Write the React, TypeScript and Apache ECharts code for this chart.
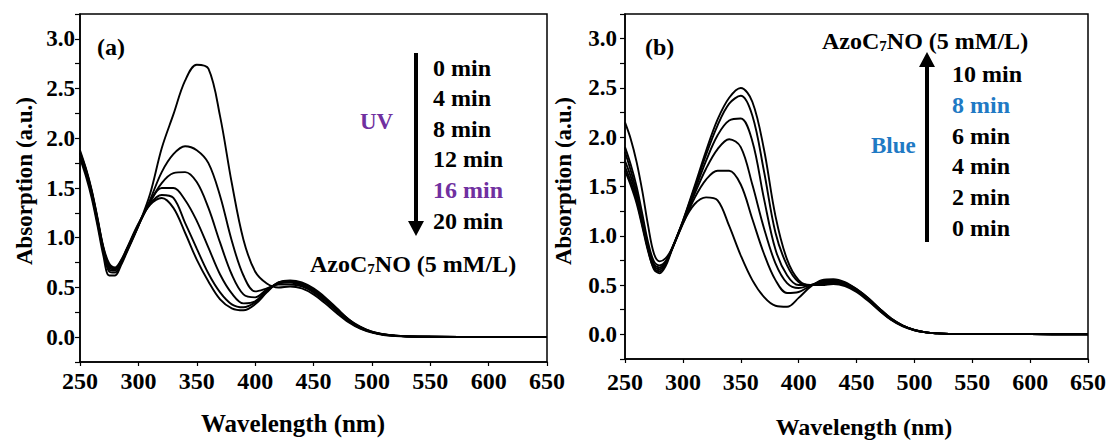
import React, { useEffect, useRef } from "react";
import * as echarts from "echarts";

const wavelengths = [250,255,260,265,270,275,280,285,290,300,310,320,330,340,350,360,370,380,390,400,410,420,430,440,450,460,470,480,490,500,510,520,530,550,600,650];

// Panel (a): UV irradiation
const uvLabels = ["0 min", "4 min", "8 min", "12 min", "16 min", "20 min"];
const uv0 = [1.80,1.62,1.40,1.12,0.82,0.62,0.62,0.72,0.85,1.12,1.44,1.90,2.24,2.58,2.74,2.70,2.22,1.55,0.98,0.66,0.54,0.50,0.51,0.49,0.43,0.34,0.24,0.15,0.085,0.045,0.022,0.012,0.007,0.004,0.002,0.001];
const uv4 = [1.82,1.65,1.43,1.15,0.86,0.66,0.65,0.74,0.86,1.12,1.38,1.66,1.84,1.92,1.88,1.75,1.42,0.97,0.62,0.46,0.49,0.53,0.53,0.51,0.45,0.36,0.26,0.16,0.09,0.05,0.025,0.013,0.007,0.004,0.002,0.001];
const uv8 = [1.84,1.67,1.45,1.17,0.88,0.68,0.67,0.75,0.87,1.12,1.36,1.55,1.65,1.66,1.56,1.30,0.95,0.63,0.43,0.40,0.48,0.54,0.55,0.52,0.46,0.37,0.27,0.17,0.095,0.05,0.026,0.014,0.008,0.004,0.002,0.001];
const uv12 = [1.85,1.68,1.46,1.18,0.89,0.70,0.68,0.76,0.88,1.13,1.36,1.50,1.50,1.38,1.17,0.90,0.63,0.44,0.34,0.36,0.47,0.54,0.56,0.53,0.47,0.38,0.28,0.17,0.10,0.05,0.027,0.014,0.008,0.004,0.002,0.001];
const uv16 = [1.86,1.69,1.47,1.19,0.90,0.72,0.69,0.76,0.88,1.13,1.34,1.43,1.40,1.15,0.89,0.64,0.45,0.33,0.30,0.35,0.46,0.55,0.565,0.54,0.48,0.39,0.28,0.18,0.10,0.055,0.028,0.015,0.008,0.004,0.002,0.001];
const uv20 = [1.88,1.70,1.48,1.20,0.91,0.74,0.70,0.77,0.89,1.14,1.33,1.40,1.30,1.05,0.78,0.56,0.38,0.29,0.27,0.33,0.45,0.55,0.57,0.55,0.49,0.40,0.29,0.18,0.105,0.055,0.03,0.015,0.009,0.004,0.002,0.001];

// Panel (b): blue light irradiation
const blueLabels = ["10 min", "8 min", "6 min", "4 min", "2 min", "0 min"];
const bl0 = [2.15,1.98,1.75,1.45,1.10,0.82,0.74,0.77,0.86,1.13,1.32,1.39,1.36,1.10,0.80,0.55,0.38,0.29,0.28,0.37,0.48,0.55,0.56,0.53,0.46,0.37,0.26,0.16,0.09,0.045,0.02,0.01,0.005,0.003,0.002,0.001];
const bl2 = [1.90,1.72,1.50,1.22,0.93,0.74,0.70,0.74,0.85,1.12,1.38,1.57,1.66,1.66,1.52,1.17,0.82,0.55,0.42,0.43,0.49,0.54,0.55,0.52,0.46,0.37,0.26,0.16,0.09,0.045,0.02,0.01,0.005,0.003,0.002,0.001];
const bl4 = [1.76,1.60,1.40,1.14,0.88,0.71,0.68,0.73,0.85,1.13,1.42,1.68,1.88,1.98,1.90,1.52,1.08,0.72,0.52,0.47,0.50,0.53,0.54,0.51,0.45,0.36,0.25,0.155,0.088,0.044,0.02,0.01,0.005,0.003,0.002,0.001];
const bl6 = [1.70,1.55,1.36,1.11,0.86,0.69,0.66,0.72,0.85,1.14,1.45,1.76,2.02,2.17,2.19,1.96,1.38,0.86,0.60,0.50,0.50,0.52,0.53,0.50,0.44,0.35,0.25,0.15,0.086,0.043,0.02,0.01,0.005,0.003,0.002,0.001];
const bl8 = [1.66,1.51,1.33,1.09,0.84,0.67,0.64,0.71,0.85,1.15,1.48,1.82,2.12,2.34,2.42,2.22,1.66,1.03,0.70,0.53,0.50,0.51,0.52,0.50,0.44,0.35,0.24,0.15,0.085,0.042,0.02,0.01,0.005,0.003,0.002,0.001];
const bl10 = [1.85,1.66,1.44,1.15,0.86,0.66,0.62,0.69,0.84,1.15,1.50,1.86,2.18,2.40,2.50,2.36,1.88,1.20,0.76,0.55,0.50,0.50,0.51,0.49,0.43,0.34,0.24,0.145,0.08,0.04,0.02,0.01,0.005,0.003,0.002,0.001];

const xTicks = [250, 300, 350, 400, 450, 500, 550, 600, 650];
const yLabelValues = [0, 0.5, 1, 1.5, 2, 2.5, 3];

const FONT = "Liberation Serif";
const PURPLE = "#7030A0";
const BLUE = "#1F7AC4";

function pairs(arr: number[]) {
  return wavelengths.map((w, i) => [w, arr[i]]);
}

function lineSeries(name: string, arr: number[], idx: number) {
  return {
    name,
    type: "line",
    xAxisIndex: idx,
    yAxisIndex: idx,
    data: pairs(arr),
    showSymbol: false,
    smooth: 0.35,
    silent: true,
    lineStyle: { color: "#000", width: 1.9 },
  };
}

function xAxisDef(gridIndex: number, margin: number) {
  return {
    gridIndex,
    type: "value",
    min: xTicks[0],
    max: xTicks[xTicks.length - 1],
    interval: 50,
    axisLine: { onZero: false, lineStyle: { color: "#000", width: 1.5 } },
    axisTick: { show: true, inside: false, length: 4, lineStyle: { color: "#000", width: 1.2 } },
    axisLabel: { color: "#000", fontFamily: FONT, fontWeight: "bold", fontSize: 24, margin },
    splitLine: { show: false },
  };
}

function yAxisDef(gridIndex: number, margin: number) {
  return {
    gridIndex,
    type: "value",
    min: -0.25,
    max: 3.25,
    interval: 0.25,
    axisLine: { onZero: false, lineStyle: { color: "#000", width: 1.5 } },
    axisTick: { show: true, inside: false, length: 5, lineStyle: { color: "#000", width: 1.2 } },
    axisLabel: {
      color: "#000",
      fontFamily: FONT,
      fontWeight: "bold",
      fontSize: 23,
      margin,
      formatter: (v: number) =>
        yLabelValues.some((t) => Math.abs(t - v) < 1e-6) ? v.toFixed(1) : "",
    },
    splitLine: { show: false },
  };
}

function txt(text: string, x: number, y: number, opts: any = {}) {
  return {
    type: "text",
    x,
    y,
    rotation: opts.rotation || 0,
    silent: true,
    style: {
      text,
      fill: opts.fill || "#000",
      fontFamily: FONT,
      fontWeight: "bold",
      fontSize: opts.fontSize || 23,
      align: opts.align || "left",
      verticalAlign: "middle",
      textAlign: opts.align || "left",
      textVerticalAlign: "middle",
    },
  };
}

function azoText(x: number, y: number) {
  return {
    type: "text",
    x,
    y,
    silent: true,
    style: {
      text: "{a|AzoC}{s|7}{a|NO (5 mM/L)}",
      align: "left",
      verticalAlign: "middle",
      textAlign: "left",
      textVerticalAlign: "middle",
      rich: {
        a: { fontFamily: FONT, fontWeight: "bold", fontSize: 24, fill: "#000", color: "#000", lineHeight: 28, verticalAlign: "bottom" },
        s: { fontFamily: FONT, fontWeight: "bold", fontSize: 15, fill: "#000", color: "#000", lineHeight: 10, verticalAlign: "bottom" },
      },
    },
  };
}

export default function App() {
  const ref = useRef<HTMLDivElement>(null);

  useEffect(() => {
    if (!ref.current) return;
    const chart = echarts.init(ref.current, undefined, { renderer: "svg" });

    const leftLegendY = [67.5, 98.1, 128.7, 159.3, 189.9, 220.5];
    const rightLegendY = [74, 104.8, 135.6, 166.4, 197.2, 228];

    const graphics: any[] = [
      txt("(a)", 97, 47, { fontSize: 24 }),
      txt("(b)", 645, 47, { fontSize: 24 }),
      txt("UV", 360, 121, { fill: PURPLE }),
      txt("Blue", 871, 145, { fill: BLUE }),
      ...uvLabels.map((l, i) => txt(l, 433, leftLegendY[i], { fill: l === "16 min" ? PURPLE : "#000", fontSize: 24 })),
      ...blueLabels.map((l, i) => txt(l, 952, rightLegendY[i], { fill: l === "8 min" ? BLUE : "#000", fontSize: 24 })),
      azoText(310, 262),
      azoText(822, 39),
      txt("Wavelength (nm)", 293, 423, { align: "center", fontSize: 25 }),
      txt("Wavelength (nm)", 864, 427, { align: "center", fontSize: 24 }),
      txt("Absorption (a.u.)", 24, 181, { align: "center", rotation: Math.PI / 2, fontSize: 23 }),
      txt("Absorption (a.u.)", 563, 181, { align: "center", rotation: Math.PI / 2, fontSize: 23 }),
      {
        type: "line",
        silent: true,
        shape: { x1: 416, y1: 53, x2: 416, y2: 226 },
        style: { stroke: "#000", lineWidth: 4 },
      },
      {
        type: "polygon",
        silent: true,
        shape: { points: [[408, 221], [424, 221], [416, 236]] },
        style: { fill: "#000" },
      },
      {
        type: "line",
        silent: true,
        shape: { x1: 927, y1: 242, x2: 927, y2: 64 },
        style: { stroke: "#000", lineWidth: 4 },
      },
      {
        type: "polygon",
        silent: true,
        shape: { points: [[919, 67], [935, 67], [927, 52]] },
        style: { fill: "#000" },
      },
    ];

    chart.setOption({
      animation: false,
      backgroundColor: "#fff",
      grid: [
        { left: 80, top: 14, width: 467, height: 348, show: true, borderColor: "#000", borderWidth: 1.5, backgroundColor: "transparent" },
        { left: 625, top: 14, width: 463, height: 345, show: true, borderColor: "#000", borderWidth: 1.5, backgroundColor: "transparent" },
      ],
      xAxis: [xAxisDef(0, 7), xAxisDef(1, 11)],
      yAxis: [yAxisDef(0, 5), yAxisDef(1, 8)],
      series: [
        lineSeries("0 min", uv0, 0),
        lineSeries("4 min", uv4, 0),
        lineSeries("8 min", uv8, 0),
        lineSeries("12 min", uv12, 0),
        lineSeries("16 min", uv16, 0),
        lineSeries("20 min", uv20, 0),
        lineSeries("0 min", bl0, 1),
        lineSeries("2 min", bl2, 1),
        lineSeries("4 min", bl4, 1),
        lineSeries("6 min", bl6, 1),
        lineSeries("8 min", bl8, 1),
        lineSeries("10 min", bl10, 1),
      ],
      graphic: graphics,
    });

    return () => chart.dispose();
  }, []);

  return (
    <div
      ref={ref}
      style={{ position: "fixed", left: 0, top: 0, width: 1115, height: 441, background: "#fff" }}
    />
  );
}
